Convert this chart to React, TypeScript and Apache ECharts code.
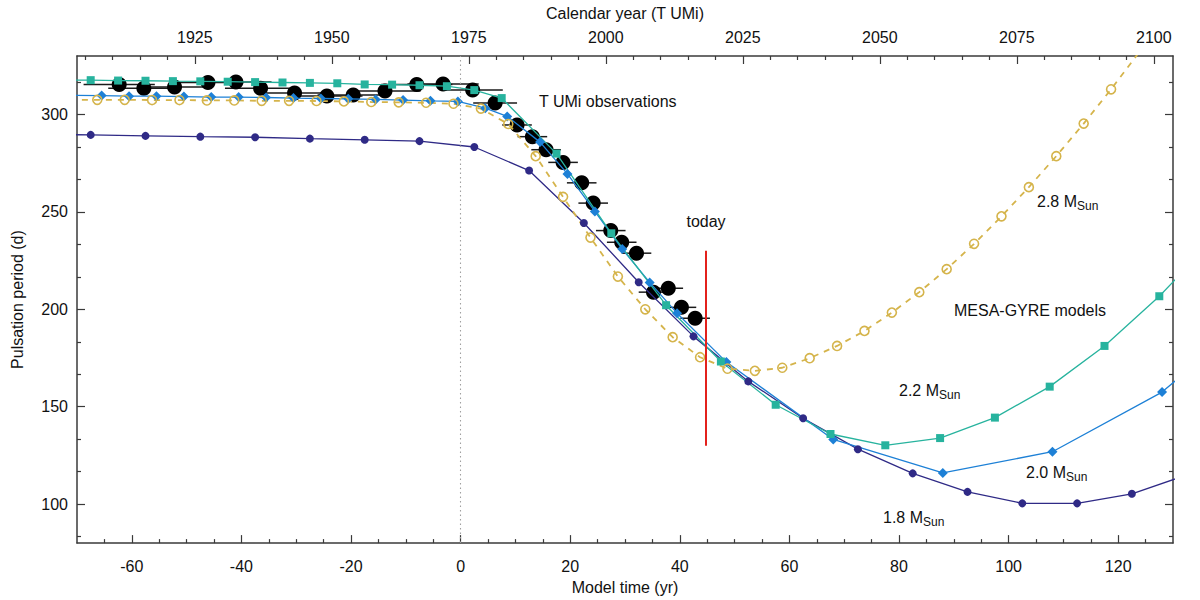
import React, { useEffect, useRef } from 'react';
import * as echarts from 'echarts';

const FONT = '"Liberation Sans", Arial, Helvetica, sans-serif';

// ---------- tick labels ----------
const modelTimeTicks = [-60, -40, -20, 0, 20, 40, 60, 80, 100, 120];
const modelTimeMinor = [-65, -55, -50, -45, -35, -30, -25, -15, -10, -5, 5, 10, 15, 25, 30, 35, 45, 50, 55, 65, 70, 75, 85, 90, 95, 105, 110, 115, 125];
const calendarTicks = [1925, 1950, 1975, 2000, 2025, 2050, 2075, 2100];
const calendarMinor = [1905, 1910, 1915, 1920, 1930, 1935, 1940, 1945, 1955, 1960, 1965, 1970, 1980, 1985, 1990, 1995, 2005, 2010, 2015, 2020, 2030, 2035, 2040, 2045, 2055, 2060, 2065, 2070, 2080, 2085, 2090, 2095];
const periodTicks = [100, 150, 200, 250, 300];
const periodMinor = [83.333, 116.667, 133.333, 166.667, 183.333, 216.667, 233.333, 266.667, 283.333, 316.667];

// ---------- MESA-GYRE models ----------
const t18 = [-77.5, -67.5, -57.5, -47.5, -37.5, -27.5, -17.5, -7.5, 2.5, 12.5, 22.5, 32.5, 42.5, 52.5, 62.5, 72.5, 82.5, 92.5, 102.5, 112.5, 122.5, 132.5];
const p18 = [289.8, 289.5, 289.0, 288.6, 288.3, 287.6, 287.0, 286.3, 283.3, 271.2, 244.3, 213.9, 186.1, 163.0, 144.1, 128.2, 115.8, 106.3, 100.4, 100.4, 105.3, 115.0];

const t20 = [-70.5, -65.5, -60.5, -55.5, -50.5, -45.5, -40.5, -35.5, -30.5, -25.5, -20.5, -15.5, -10.5, -5.5, -0.5, 4.5, 8.5, 14.5, 19.5, 24.5, 29.5, 34.5, 39.5, 48.5, 68, 88, 108, 128, 148];
const p20 = [309.8, 309.7, 309.4, 309.4, 309.2, 308.9, 308.9, 308.7, 308.4, 308.2, 308.0, 307.7, 307.4, 307.0, 306.7, 303.2, 299.0, 285.8, 269.5, 250.2, 230.9, 213.8, 198.0, 172.9, 133.2, 116.0, 126.9, 157.5, 205.0];

const t22 = [-72.5, -67.5, -62.5, -57.5, -52.5, -47.5, -42.5, -37.5, -32.5, -27.5, -22.5, -17.5, -12.5, -7.5, -2.5, 2.5, 7.5, 17.5, 27.5, 37.5, 47.5, 57.5, 67.5, 77.5, 87.5, 97.5, 107.5, 117.5, 127.5, 137.5];
const p22 = [317.6, 317.6, 317.4, 317.3, 317.1, 317.0, 316.8, 316.6, 316.4, 316.2, 316.0, 315.4, 315.3, 315.0, 314.5, 312.5, 308.4, 279.9, 239.0, 202.1, 173.2, 151.0, 136.0, 130.2, 133.9, 144.4, 160.3, 181.2, 206.7, 236.0];

const t28 = [-71.3, -66.3, -61.3, -56.3, -51.3, -46.3, -41.3, -36.3, -31.3, -26.3, -21.3, -16.3, -11.3, -6.3, -1.3, 3.7, 8.7, 13.7, 18.7, 23.7, 28.7, 33.7, 38.7, 43.7, 48.7, 53.7, 58.7, 63.7, 68.7, 73.7, 78.7, 83.7, 88.7, 93.7, 98.7, 103.7, 108.7, 113.7, 118.7, 123.7];
const p28 = [307.5, 307.5, 307.5, 307.4, 307.4, 307.2, 307.2, 307.0, 307.0, 306.9, 306.7, 306.4, 306.2, 306.0, 305.5, 303.0, 295.1, 278.6, 257.7, 236.8, 216.8, 200.0, 185.7, 175.4, 169.5, 168.4, 170.0, 174.9, 181.2, 188.9, 198.3, 208.8, 220.6, 233.6, 247.7, 262.7, 278.6, 295.3, 312.9, 331.5];

// ---------- T UMi observations ----------
const obsT = [-62.3, -57.8, -52.2, -46.1, -41.0, -36.5, -30.3, -24.4, -19.6, -13.8, -8.0, -3.2, 2.2, 6.3, 10.3, 13.1, 15.6, 18.7, 22.1, 24.2, 27.4, 29.4, 32.1, 35.2, 37.9, 40.3, 42.8];
const obsP = [315.4, 313.4, 314.1, 316.4, 316.7, 313.4, 311.0, 309.5, 310.0, 312.0, 315.4, 315.6, 312.5, 305.9, 294.6, 288.6, 281.9, 275.4, 264.9, 254.5, 240.4, 234.4, 228.8, 208.8, 210.8, 201.0, 195.4];
const obsErr = [6.5, 6.5, 6.5, 6.5, 6.5, 6.5, 6.5, 6.5, 6.5, 6.5, 6.5, 6.5, 5.5, 4.0, 2.7, 2.7, 2.7, 2.7, 2.7, 2.7, 2.7, 2.7, 2.7, 2.7, 2.7, 2.7, 2.7];

const todayT = 44.8;
const todayRange = [130, 230];

const C18 = '#2f2a86';
const C20 = '#1d80d6';
const C22 = '#27b39e';
const C28 = '#d5b44b';
const FRAME = '#3a3a3a';
const TXT = '#111111';

const pairs = (t: number[], p: number[]) => t.map((x, i) => [x, p[i]]);

function tickAxis(extra: any) {
  return {
    type: 'value',
    splitLine: { show: false },
    axisLine: { show: false, onZero: false },
    axisLabel: { show: false },
    ...extra,
  };
}

function buildOption(): any {
  const labelStyle = { fontSize: 16, color: TXT, fontFamily: FONT };
  const majorTick = (vals: number[]) => ({ show: true, inside: true, length: 8, customValues: vals, lineStyle: { color: FRAME, width: 1.2 } });
  const minorTick = (vals: number[]) => ({ show: true, inside: true, length: 4, customValues: vals, lineStyle: { color: FRAME, width: 1.2 } });
  const line = { show: true, onZero: false, lineStyle: { color: FRAME, width: 1.5 } };

  const texts: any[] = [];
  const addText = (x: number, y: number, s: string, align = 'left') =>
    texts.push({ type: 'text', x, y, z: 50, style: { text: s, fill: TXT, font: `16px ${FONT}`, textAlign: align, textVerticalAlign: 'middle' } });
  const addMass = (x: number, y: number, m: string) => {
    addText(x, y, m + ' M');
    texts.push({ type: 'text', x: x + 40, y: y + 5, z: 50, style: { text: 'Sun', fill: TXT, font: `12px ${FONT}`, textAlign: 'left', textVerticalAlign: 'middle' } });
  };
  addText(539, 101, 'T UMi observations');
  addText(706, 221, 'today', 'center');
  addText(954, 310, 'MESA-GYRE models');
  addMass(1037, 201, '2.8');
  addMass(899, 390, '2.2');
  addMass(1026, 472, '2.0');
  addMass(883, 517, '1.8');

  return {
    animation: false,
    backgroundColor: '#ffffff',
    grid: { left: 77, right: 27, top: 51, bottom: 51.5, containLabel: false },
    xAxis: [
      tickAxis({
        position: 'bottom', min: -70, max: 130,
        axisLine: line,
        axisTick: majorTick(modelTimeTicks),
        axisLabel: { show: true, customValues: modelTimeTicks, margin: 15, formatter: (v: number) => String(v), ...labelStyle },
        name: 'Model time (yr)', nameLocation: 'middle', nameGap: 29, nameTextStyle: labelStyle,
      }),
      tickAxis({ position: 'bottom', min: -70, max: 130, axisTick: minorTick(modelTimeMinor) }),
      tickAxis({
        position: 'top', min: 1903.5, max: 2103.5,
        axisLine: line,
        axisTick: majorTick(calendarTicks),
        axisLabel: { show: true, customValues: calendarTicks, margin: 11, formatter: (v: number) => String(v), ...labelStyle },
        name: 'Calendar year (T UMi)', nameLocation: 'middle', nameGap: 35, nameTextStyle: labelStyle,
      }),
      tickAxis({ position: 'top', min: 1903.5, max: 2103.5, axisTick: minorTick(calendarMinor) }),
    ],
    yAxis: [
      tickAxis({
        position: 'left', min: 80, max: 330,
        axisLine: line,
        axisTick: majorTick(periodTicks),
        axisLabel: { show: true, customValues: periodTicks, margin: 9, formatter: (v: number) => String(v), ...labelStyle },
        name: 'Pulsation period (d)', nameLocation: 'middle', nameGap: 52, nameRotate: 90, nameTextStyle: labelStyle,
      }),
      tickAxis({ position: 'left', min: 80, max: 330, axisTick: minorTick(periodMinor) }),
      tickAxis({ position: 'right', min: 80, max: 330, axisLine: line, axisTick: majorTick(periodTicks) }),
      tickAxis({ position: 'right', min: 80, max: 330, axisTick: minorTick(periodMinor) }),
    ],
    graphic: texts,
    series: [
      {
        name: '1.8 MSun', type: 'line', xAxisIndex: 0, yAxisIndex: 0, data: pairs(t18, p18), clip: true,
        symbol: 'circle', symbolSize: 8, showAllSymbol: true,
        lineStyle: { color: C18, width: 1.3 }, itemStyle: { color: C18 },
        markLine: {
          silent: true, symbol: ['none', 'none'], label: { show: false },
          data: [{ xAxis: 0, lineStyle: { type: [1.5, 3], color: '#a0a0a0', width: 1.1 } }],
        },
      },
      {
        name: '2.0 MSun', type: 'line', xAxisIndex: 0, yAxisIndex: 0, data: pairs(t20, p20), clip: true,
        symbol: 'diamond', symbolSize: 10, showAllSymbol: true,
        lineStyle: { color: C20, width: 1.3 }, itemStyle: { color: C20 },
      },
      {
        name: '2.2 MSun', type: 'line', xAxisIndex: 0, yAxisIndex: 0, data: pairs(t22, p22), clip: true,
        symbol: 'rect', symbolSize: 8, showAllSymbol: true,
        lineStyle: { color: C22, width: 1.3 }, itemStyle: { color: C22 },
      },
      {
        name: '2.8 MSun', type: 'line', xAxisIndex: 0, yAxisIndex: 0, data: pairs(t28, p28), clip: true,
        symbol: 'circle', symbolSize: 9, showAllSymbol: true,
        lineStyle: { color: C28, width: 1.8, type: [6, 6] },
        itemStyle: { color: 'rgba(0,0,0,0)', borderColor: C28, borderWidth: 1.6 },
      },
      {
        name: 'errors', type: 'custom', xAxisIndex: 0, yAxisIndex: 0, clip: true,
        data: obsT.map((t, i) => [t, obsP[i], obsErr[i]]),
        encode: { x: 0, y: 1 },
        renderItem: (params: any, api: any) => {
          const t = api.value(0), p = api.value(1), e = api.value(2);
          const a = api.coord([t - e, p]);
          const b = api.coord([t + e, p]);
          return { type: 'line', shape: { x1: a[0], y1: a[1], x2: b[0], y2: b[1] }, style: { stroke: '#1a1a1a', lineWidth: 1.5 } };
        },
      },
      {
        name: 'T UMi observations', type: 'scatter', xAxisIndex: 0, yAxisIndex: 0, data: pairs(obsT, obsP),
        symbol: 'circle', symbolSize: 15, itemStyle: { color: '#000000', opacity: 1 },
        markLine: {
          silent: true, symbol: ['none', 'none'], label: { show: false },
          data: [[
            { coord: [todayT, todayRange[0]], lineStyle: { color: '#e3211c', width: 2, type: 'solid' } },
            { coord: [todayT, todayRange[1]] },
          ]],
        },
      },
    ],
  };
}

export default function App() {
  const ref = useRef<HTMLDivElement>(null);
  useEffect(() => {
    if (!ref.current) return;
    const chart = echarts.init(ref.current, null, { renderer: 'svg' });
    chart.setOption(buildOption());
    return () => chart.dispose();
  }, []);
  return (
    <div
      ref={ref}
      style={{ position: 'fixed', left: 0, top: 0, width: 1200, height: 600, background: '#ffffff' }}
    />
  );
}
